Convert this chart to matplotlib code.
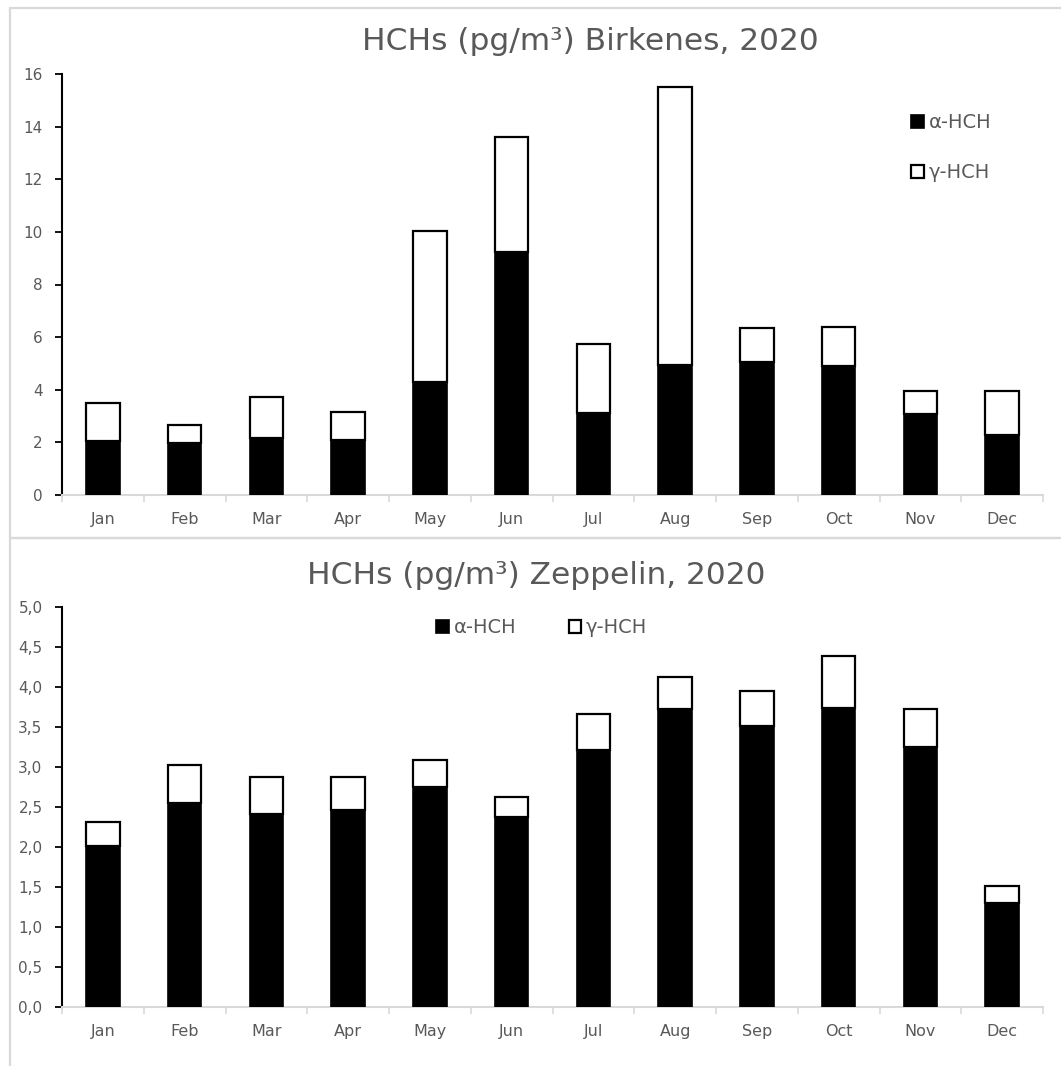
import matplotlib

matplotlib.use("Agg")
import matplotlib.pyplot as plt
from matplotlib.patches import Rectangle
from matplotlib.ticker import FuncFormatter


MONTHS = ["Jan", "Feb", "Mar", "Apr", "May", "Jun",
          "Jul", "Aug", "Sep", "Oct", "Nov", "Dec"]

# Birkenes, monthly means (pg/m3)
BIRK_ALPHA = [2.05, 1.97, 2.18, 2.09, 4.28, 9.25, 3.11, 4.93, 5.05, 4.89, 3.07, 2.29]
BIRK_TOTAL = [3.51, 2.66, 3.73, 3.16, 10.04, 13.60, 5.74, 15.49, 6.34, 6.39, 3.97, 3.97]

# Zeppelin, monthly means (pg/m3)
ZEPP_ALPHA = [2.01, 2.55, 2.41, 2.46, 2.75, 2.37, 3.21, 3.72, 3.51, 3.74, 3.25, 1.30]
ZEPP_TOTAL = [2.31, 3.02, 2.87, 2.87, 3.09, 2.63, 3.66, 4.12, 3.95, 4.39, 3.73, 1.51]

BIRK_TICKS = [0, 2, 4, 6, 8, 10, 12, 14, 16]
ZEPP_TICKS = [0.0, 0.5, 1.0, 1.5, 2.0, 2.5, 3.0, 3.5, 4.0, 4.5, 5.0]

TEXT_GREY = "#595959"
FRAME_GREY = "#d9d9d9"
W, H = 1061, 1066

plt.rcParams["font.family"] = ["DejaVu Sans"]


def px_box(x0, y0, x1, y1):
    # pixel box (top-left origin) -> figure fractions for add_axes
    return [x0 / W, 1 - y1 / H, (x1 - x0) / W, (y1 - y0) / H]


def stacked(ax, alpha, total, ticks, comma=False):
    x = range(len(MONTHS))
    gamma = [t - a for a, t in zip(alpha, total)]
    width = 0.41
    ax.bar(x, alpha, width, color="black", edgecolor="black", linewidth=1.2,
           label="α-HCH", zorder=3)
    ax.bar(x, gamma, width, bottom=alpha, color="white", edgecolor="black",
           linewidth=1.6, label="γ-HCH", zorder=3)

    ax.set_xlim(-0.5, len(MONTHS) - 0.5)
    ax.set_ylim(ticks[0], ticks[-1])
    ax.set_yticks(ticks)
    if comma:
        ax.yaxis.set_major_formatter(FuncFormatter(lambda v, _: f"{v:.1f}".replace(".", ",")))

    ax.set_xticks(list(x))
    ax.set_xticklabels(MONTHS)
    ax.set_xticks([i - 0.5 for i in range(len(MONTHS) + 1)], minor=True)
    ax.tick_params(axis="x", which="major", length=0, pad=12, labelsize=11.5,
                   labelcolor=TEXT_GREY)
    ax.tick_params(axis="x", which="minor", length=5, width=1.2, color=FRAME_GREY)
    ax.tick_params(axis="y", length=5, width=1.3, color="black", pad=9,
                   labelsize=11, labelcolor=TEXT_GREY)

    for side in ("top", "right"):
        ax.spines[side].set_visible(False)
    ax.spines["left"].set_color("black")
    ax.spines["left"].set_linewidth(1.5)
    ax.spines["bottom"].set_color(FRAME_GREY)
    ax.spines["bottom"].set_linewidth(1.5)


def add_legend(ax, anchor, **kw):
    ax.legend(loc="upper left", bbox_to_anchor=(anchor[0] / W, 1 - anchor[1] / H),
              bbox_transform=fig.transFigure, frameon=False, fontsize=14,
              handlelength=0.65, handleheight=0.65, handletextpad=0.25,
              borderpad=0, borderaxespad=0, labelcolor=TEXT_GREY, **kw)


fig = plt.figure(figsize=(W / 100, H / 100), dpi=100)

# chart area frames, open to the right
for y0, y1 in [(8, 538), (538, 1300)]:
    fig.add_artist(Rectangle((10 / W, 1 - y1 / H), 2.0, (y1 - y0) / H,
                             transform=fig.transFigure, fill=False,
                             edgecolor=FRAME_GREY, linewidth=1.6))

ax1 = fig.add_axes(px_box(62, 74, 1043, 495))
stacked(ax1, BIRK_ALPHA, BIRK_TOTAL, BIRK_TICKS)
fig.text(590 / W, 1 - 42 / H, "HCHs (pg/m³) Birkenes, 2020", ha="center",
         va="center", fontsize=22.5, color=TEXT_GREY)
add_legend(ax1, (911, 113), labelspacing=1.6)

ax2 = fig.add_axes(px_box(62, 607, 1043, 1007))
stacked(ax2, ZEPP_ALPHA, ZEPP_TOTAL, ZEPP_TICKS, comma=True)
fig.text(536 / W, 1 - 575 / H, "HCHs (pg/m³) Zeppelin, 2020", ha="center",
         va="center", fontsize=22.5, color=TEXT_GREY)
add_legend(ax2, (436, 618), ncol=2, columnspacing=2.7)

fig.savefig("out.png", dpi=100, facecolor="white")
